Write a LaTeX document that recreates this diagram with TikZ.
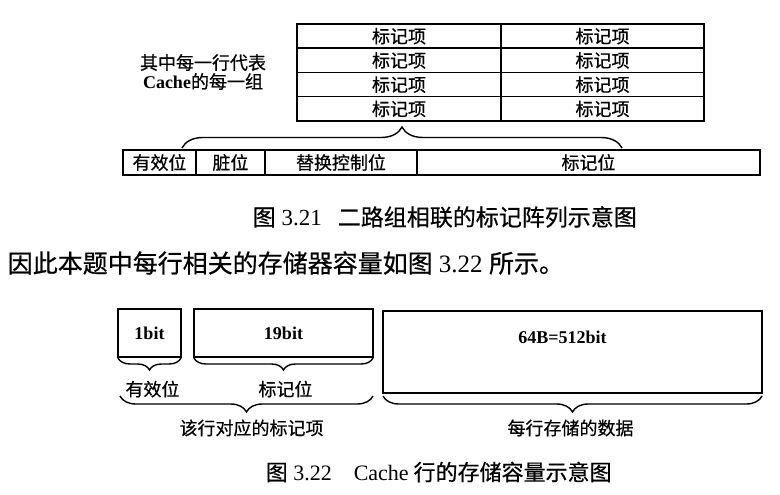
\documentclass[tikz,border=0pt]{standalone}
\usepackage{fontspec}
\setmainfont{Liberation Serif}
\newfontfamily\cjk[FakeBold=0.6]{Noto Sans CJK SC}
\usetikzlibrary{positioning,calc,decorations.pathreplacing}

\begin{document}
\begin{tikzpicture}[
    x=1pt, y=-1pt,
    line width=1.5pt,
    font=\fontsize{18}{19}\selectfont\cjk,
    cell/.style={draw, inner sep=0pt, outer sep=0pt, anchor=north west},
    lbl/.style={inner sep=0pt},
    brc/.style={decorate, decoration={brace, amplitude=#1}, line width=1.4pt}
]
\useasboundingbox (0,0) rectangle (780,495);

\node[lbl, align=center] (note) at (203,72) {其中每一行代表\\{\rmfamily\bfseries Cache}的每一组};
\foreach \r in {0,...,3}{
    \node[cell, minimum width=204pt, minimum height=24.25pt] (tl\r) at (297,24+24.25*\r) {标记项};
    \node[cell, minimum width=203pt, minimum height=24.25pt] (tr\r) at (501,24+24.25*\r) {标记项};
}
\node[cell, minimum width=73pt, minimum height=25pt] (valid) at (123,150) {有效位};
\node[cell, minimum width=69pt, minimum height=25pt, right=0pt of valid] (dirty) {脏位};
\node[cell, minimum width=152pt, minimum height=25pt, right=0pt of dirty] (repl) {替换控制位};
\node[cell, minimum width=343pt, minimum height=25pt, right=0pt of repl] (tag) {标记位};
\coordinate (ta) at (182,148);
\coordinate (tb) at (622,148);
\draw[brc=21pt] (ta) -- (tb);

\node[lbl, anchor=west, font=\fontsize{23}{24}\selectfont\cjk] (cap1) at (252,217) {图{\rmfamily\ 3.21}\hspace{0.7em}二路组相联的标记阵列示意图};
\node[lbl, anchor=west, font=\fontsize{25}{26}\selectfont\cjk] (para) at (7,263) {因此本题中每行相关的存储器容量如图{\rmfamily\ 3.22\ }所示。};

\node[cell, minimum width=63pt, minimum height=48pt, font=\fontsize{18}{19}\selectfont\rmfamily\bfseries] (onebit) at (118,309) {1bit};
\node[cell, minimum width=179pt, minimum height=48pt, font=\fontsize{18}{19}\selectfont\rmfamily\bfseries] (tagbits) at (194,309) {19bit};
\node[cell, minimum width=379pt, minimum height=82pt] (data) at (383,311) {};
\node[lbl, below=19pt of data.north, xshift=-10pt, font=\fontsize{18}{19}\selectfont\rmfamily\bfseries] (datasize) {64B=512bit};
\draw[brc=12pt] ([yshift=-1pt]onebit.south east) -- ([yshift=-1pt]onebit.south west);
\draw[brc=12pt] ([yshift=-1pt]tagbits.south east) -- ([yshift=-1pt]tagbits.south west);
\node[lbl, below=23pt of onebit.south, xshift=3pt] (validlbl) {有效位};
\node[lbl, below=23pt of tagbits.south, xshift=2pt] (taglbl) {标记位};
\coordinate (ba) at (120,396);
\coordinate (bb) at (373,396);
\coordinate (da) at (383,396);
\coordinate (db) at (762,396);
\draw[brc=16pt] (bb) -- (ba);
\draw[brc=16pt] (db) -- (da);
\node[lbl] (itemlbl) at ($(ba)!0.5!(bb)+(5,32)$) {该行对应的标记项};
\node[lbl] (datalbl) at ($(da)!0.5!(db)+(-2,32)$) {每行存储的数据};

\node[lbl, anchor=west, font=\fontsize{22}{23}\selectfont\cjk] (cap2) at (265,472) {图{\rmfamily\ 3.22}\hspace{1em}{\rmfamily Cache} 行的存储容量示意图};
\end{tikzpicture}
\end{document}
